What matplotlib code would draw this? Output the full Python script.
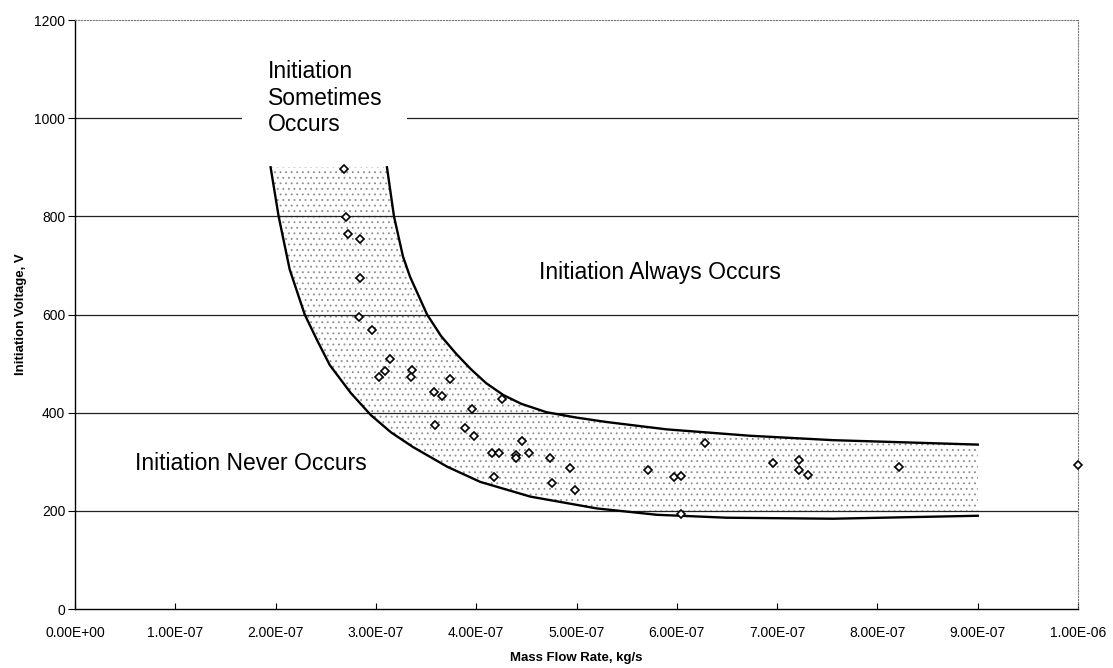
import numpy as np
import matplotlib
matplotlib.use('Agg')
import matplotlib.pyplot as plt

plt.rcParams['font.family'] = ['Liberation Sans', 'DejaVu Sans']
plt.rcParams['hatch.linewidth'] = 0.6

# Measured points: mass flow rate (kg/s) and initiation voltage (V)
flow = [2.68e-7, 2.70e-7, 2.72e-7, 2.84e-7, 2.84e-7, 2.83e-7, 2.96e-7, 3.14e-7,
        3.09e-7, 3.03e-7, 3.36e-7, 3.35e-7, 3.74e-7, 3.58e-7, 3.66e-7, 3.96e-7,
        3.59e-7, 3.89e-7, 3.98e-7, 4.26e-7, 4.46e-7, 4.16e-7, 4.23e-7, 4.40e-7,
        4.40e-7, 4.53e-7, 4.74e-7, 4.93e-7, 4.18e-7, 4.76e-7, 4.98e-7, 5.71e-7,
        5.97e-7, 6.04e-7, 6.04e-7, 6.28e-7, 6.96e-7, 7.22e-7, 7.22e-7, 7.31e-7,
        8.21e-7, 1.00e-6]
voltage = [896, 799, 765, 754, 674, 594, 568, 509,
           485, 473, 486, 472, 469, 443, 434, 408,
           374, 369, 353, 427, 342, 318, 318, 314,
           307, 318, 307, 288, 268, 257, 242, 283,
           268, 272, 194, 338, 297, 304, 283, 273,
           290, 294]

# Hand drawn band limits
upper_x = [3.11e-7, 3.18e-7, 3.27e-7, 3.34e-7, 3.51e-7, 3.65e-7, 3.80e-7, 3.95e-7,
           4.10e-7, 4.27e-7, 4.45e-7, 4.70e-7, 5.00e-7, 5.30e-7, 5.90e-7, 6.73e-7,
           7.56e-7, 9.00e-7]
upper_y = [900, 800, 718, 677, 600, 556, 520, 488,
           460, 436, 418, 401, 390, 381, 366, 353,
           344, 335]
lower_x = [1.95e-7, 2.03e-7, 2.14e-7, 2.29e-7, 2.42e-7, 2.54e-7, 2.75e-7, 2.95e-7,
           3.15e-7, 3.37e-7, 3.71e-7, 4.04e-7, 4.54e-7, 5.20e-7, 5.80e-7, 6.50e-7,
           7.56e-7, 9.00e-7]
lower_y = [900, 800, 692, 600, 545, 497, 440, 395,
           360, 330, 290, 259, 229, 205, 192, 186,
           184, 190]

fig = plt.figure(figsize=(11.13, 6.68), dpi=100)
ax = fig.add_axes([0.0674, 0.0883, 0.9012, 0.8817])

# stippled band between the two limits
band_x = list(upper_x) + list(lower_x[::-1])
band_y = list(upper_y) + list(np.maximum(lower_y, 200)[::-1])
ax.fill(band_x, band_y, facecolor='none', edgecolor='#8c8c8c', linewidth=0,
        hatch='...', zorder=1)

ax.plot(upper_x, upper_y, color='black', lw=1.7, zorder=3)
ax.plot(lower_x, lower_y, color='black', lw=1.7, zorder=3)

for yv in [200, 400, 600, 800, 1000]:
    ax.axhline(yv, color='#222222', lw=0.9, zorder=2)

ax.plot(flow, voltage, linestyle='none', marker='D', markersize=4.2,
        markerfacecolor='white', markeredgecolor='black', markeredgewidth=1.2,
        zorder=5, clip_on=False)

ax.set_xlim(0, 1e-6)
ax.set_ylim(0, 1200)
xt = np.arange(0, 11) * 1e-7
ax.set_xticks(xt)
ax.set_xticklabels(['{:.2E}'.format(v) for v in xt])
ax.set_yticks(np.arange(0, 1201, 200))
ax.tick_params(axis='y', direction='out', length=5, labelsize=10, pad=2)
ax.tick_params(axis='x', direction='in', length=4, labelsize=10, pad=12)

ax.spines['top'].set_color('#777777')
ax.spines['top'].set_linestyle(':')
ax.spines['right'].set_color('#777777')
ax.spines['right'].set_linestyle(':')
ax.spines['left'].set_linewidth(1.0)
ax.spines['bottom'].set_linewidth(1.0)

ax.set_xlabel('Mass Flow Rate, kg/s', fontsize=9.5, fontweight='bold', labelpad=9)
ax.set_ylabel('Initiation Voltage, V', fontsize=9.5, fontweight='bold', labelpad=5)

ax.text(1.92e-7, 1118, 'Initiation\nSometimes\nOccurs', fontsize=16.5, ha='left', va='top',
        zorder=6, bbox=dict(facecolor='white', edgecolor='none',
                            boxstyle='square,pad=1.1'))
ax.text(5.83e-7, 685, 'Initiation Always Occurs', fontsize=16.5, ha='center', va='center', zorder=6)
ax.text(1.75e-7, 297, 'Initiation Never Occurs', fontsize=16.5, ha='center', va='center', zorder=6)

fig.savefig('out.png', dpi=100)
